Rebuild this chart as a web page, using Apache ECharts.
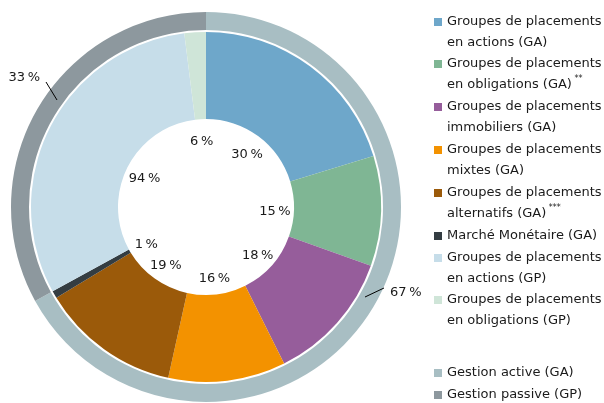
<!DOCTYPE html>
<html>
<head>
<meta charset="utf-8">
<script src="https://cdn.jsdelivr.net/npm/echarts@6/dist/echarts.min.js"></script>
<style>
html,body{margin:0;padding:0;background:#fff;}
#chart{width:604px;height:403px;}
</style>
</head>
<body>
<div id="chart"></div>
<script>
// ---- Data ----
const gaCategories = [
  'Groupes de placements\nen actions (GA)',
  'Groupes de placements\nen obligations (GA)',
  'Groupes de placements\nimmobiliers (GA)',
  'Groupes de placements\nmixtes (GA)',
  'Groupes de placements\nalternatifs (GA)',
  'Marché Monétaire (GA)'
];
const gaShares = [30, 15, 18, 16, 19, 1];
const gaNotes = ['', '**', '', '', '***', ''];

const gpCategories = [
  'Groupes de placements\nen actions (GP)',
  'Groupes de placements\nen obligations (GP)'
];
const gpShares = [94, 6];
const gpNotes = ['', ''];

const mgmtCategories = ['Gestion active (GA)', 'Gestion passive (GP)'];
const mgmtShares = [67, 33];

// ---- Styles ----
const gaColors = ['#6ea7ca', '#7fb694', '#965d9b', '#f39200', '#9b5a0a', '#343d42'];
const gpColors = ['#c6dde9', '#cfe5d8'];
const mgmtColors = ['#a8bec3', '#8d989e'];
const FONT = 'DejaVu Sans';
const TXT = '#1a1a1a';
const CX = 206, CY = 207;

const sum = a => a.reduce((s, v) => s + v, 0);
const gaSum = sum(gaShares), gpSum = sum(gpShares);
const innerValues = gaShares.map(v => v / gaSum * mgmtShares[0])
  .concat(gpShares.map(v => v / gpSum * mgmtShares[1]));
const innerNames = gaCategories.concat(gpCategories);
const innerColors = gaColors.concat(gpColors);
const innerPct = gaShares.concat(gpShares);
const notes = gaNotes.concat(gpNotes);

const pct = v => v + '\u2009%';

// legend rows (first line centre y) - layout only
const legendRowY = [22, 64, 107, 150, 193, 236, 258, 300, 373, 395];
const legendNames = innerNames.concat(mgmtCategories);
const LH = 21;
const legends = legendNames.map((name, i) => {
  const two = name.indexOf('\n') >= 0;
  return {
    left: 434,
    top: legendRowY[i] - (two ? 1.5 * LH : LH / 2),
    padding: 0,
    orient: 'vertical',
    itemWidth: 8,
    itemHeight: 8,
    icon: 'rect',
    selectedMode: false,
    data: [name],
    formatter: n => {
      const k = innerNames.indexOf(n);
      const note = k >= 0 ? notes[k] : '';
      return note ? n + '{sup| ' + note + '}' : n;
    },
    textStyle: {
      fontFamily: FONT, fontSize: 13, color: TXT, lineHeight: LH,
      padding: two ? [LH, 0, 0, 0] : 0,
      rich: { sup: { fontFamily: FONT, fontSize: 8, lineHeight: 12, verticalAlign: 'top', color: TXT } }
    }
  };
});

// label placement for the outer ring (decoration layout)
const outerLabelPos = [
  { x: 390, y: 293, align: 'left', line: [[365, 297], [384, 288]] },
  { x: 40, y: 78, align: 'right', line: [[57, 100], [46, 82]] }
];

const option = {
  animation: false,
  backgroundColor: '#fff',
  legend: legends,
  series: [
    {
      type: 'pie',
      center: [CX, CY],
      radius: [88, 175],
      startAngle: 90,
      clockwise: true,
      silent: true,
      label: { show: false },
      labelLine: { show: false },
      data: innerValues.map((v, i) => ({ name: innerNames[i], value: v, itemStyle: { color: innerColors[i] } }))
    },
    {
      type: 'pie',
      center: [CX, CY],
      radius: [177, 195],
      startAngle: 90,
      silent: true,
      label: { show: false },
      labelLine: { show: false },
      data: mgmtShares.map((v, i) => ({ name: mgmtCategories[i], value: v, itemStyle: { color: mgmtColors[i] } }))
    },
    {
      // transparent copy of the outer ring, carrying its labels on top
      type: 'pie',
      z: 10,
      center: [CX, CY],
      radius: [177, 195],
      startAngle: 90,
      silent: true,
      avoidLabelOverlap: false,
      itemStyle: { color: 'rgba(0,0,0,0)' },
      label: {
        show: true, position: 'outside', fontFamily: FONT, fontSize: 13, color: TXT,
        width: 40, overflow: 'none',
        formatter: p => pct(mgmtShares[p.dataIndex])
      },
      labelLine: { show: true, length: 8, length2: 8, lineStyle: { color: '#000', width: 1 } },
      labelLayout: p => {
        const o = outerLabelPos[p.dataIndex];
        return { x: o.x, y: o.y, align: o.align, verticalAlign: 'middle', labelLinePoints: o.line };
      },
      data: mgmtShares.map((v, i) => ({ name: 'ring' + i, value: v }))
    },
    {
      type: 'pie',
      z: 10,
      center: [CX, CY + 3],
      radius: [40, 92],
      startAngle: 90,
      silent: true,
      avoidLabelOverlap: false,
      itemStyle: { color: 'rgba(0,0,0,0)' },
      label: {
        show: true, position: 'inside', fontFamily: FONT, fontSize: 13, color: TXT,
        formatter: p => pct(innerPct[p.dataIndex])
      },
      labelLine: { show: false },
      data: innerValues.map((v, i) => ({ name: 'lbl' + i, value: v }))
    }
  ]
};

const chart = echarts.init(document.getElementById('chart'), null, { renderer: 'canvas' });
chart.setOption(option);
</script>
</body>
</html>
